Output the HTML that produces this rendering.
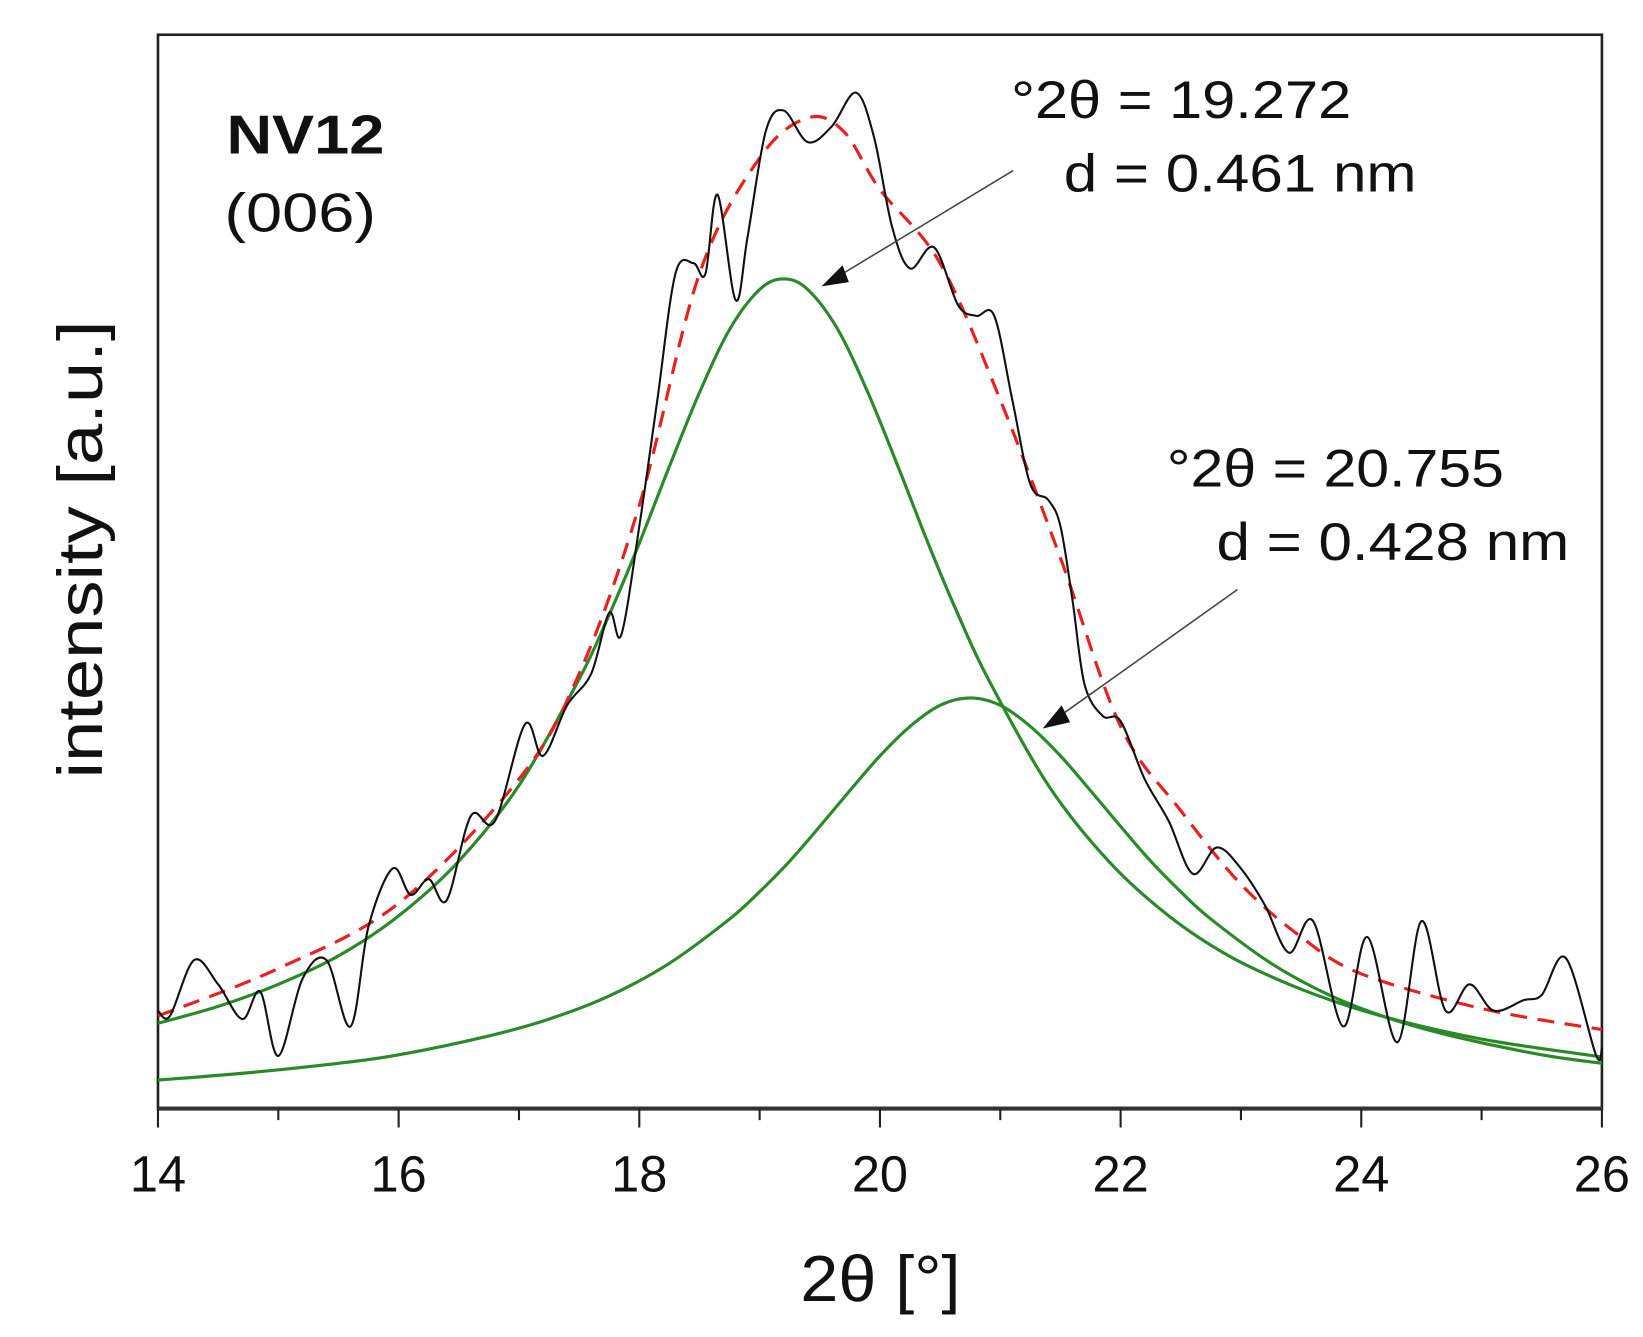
<!DOCTYPE html>
<html><head><meta charset="utf-8"><style>
html,body{margin:0;padding:0;background:#fff;}
svg{display:block;}
text{font-family:"Liberation Sans",sans-serif;fill:#111;}
</style></head><body>
<svg id="chart" width="1643" height="1337" viewBox="0 0 1560 1270" preserveAspectRatio="none" xmlns="http://www.w3.org/2000/svg">
<rect x="150" y="33" width="1371" height="1020" fill="none" stroke="#222" stroke-width="2.5"/>
<g id="ticks"></g>
<g id="series"></g>
<text x="215" y="146" font-size="52" font-weight="bold" textLength="150" lengthAdjust="spacingAndGlyphs">NV12</text>
<text x="213" y="220" font-size="52" textLength="144" lengthAdjust="spacingAndGlyphs">(006)</text>
<text x="960" y="112" font-size="50" textLength="323" lengthAdjust="spacingAndGlyphs">°2θ = 19.272</text>
<text x="1010" y="182" font-size="50" textLength="335" lengthAdjust="spacingAndGlyphs">d = 0.461 nm</text>
<text x="1108" y="462" font-size="50" textLength="320" lengthAdjust="spacingAndGlyphs">°2θ = 20.755</text>
<text x="1155" y="532" font-size="50" textLength="335" lengthAdjust="spacingAndGlyphs">d = 0.428 nm</text>
<line x1="962" y1="162" x2="795" y2="263" stroke="#444" stroke-width="1.5"/>
<polygon points="780,272 800,252 806,268" fill="#111"/>
<line x1="1175" y1="560" x2="1005" y2="681" stroke="#444" stroke-width="1.5"/>
<polygon points="990,692 1008,670 1016,686" fill="#111"/>
<text transform="translate(97,522) rotate(-90)" text-anchor="middle" font-size="60" textLength="435" lengthAdjust="spacingAndGlyphs">intensity [a.u.]</text>
<text x="836" y="1236" text-anchor="middle" font-size="62" textLength="152" lengthAdjust="spacingAndGlyphs">2θ [°]</text>
</svg>
<script>
const xTickLabels = [14, 16, 18, 20, 22, 24, 26];
const measuredX = [14.0,14.1,14.3,14.5,14.7,14.85,15.0,15.2,15.4,15.6,15.75,15.95,16.1,16.25,16.4,16.6,16.8,17.05,17.2,17.4,17.6,17.75,17.85,18.0,18.15,18.3,18.45,18.55,18.65,18.8,18.9,19.05,19.2,19.4,19.6,19.8,19.95,20.1,20.25,20.45,20.65,20.8,20.95,21.1,21.25,21.4,21.5,21.6,21.7,21.85,22.0,22.2,22.4,22.6,22.8,23.0,23.2,23.4,23.6,23.85,24.05,24.3,24.5,24.7,24.9,25.1,25.35,25.5,25.7,25.95,26.0];
const measuredY = [93,88,141,118,85,111,50,123,141,78,173,228,203,218,198,278,273,365,335,383,413,471,450,553,673,793,803,793,868,768,828,928,948,918,933,965,923,838,798,818,763,753,753,673,593,578,553,483,403,373,368,313,273,223,248,228,193,148,178,78,163,63,178,93,118,93,103,108,143,51,58];
const fitX = [14,15,16,17,17.5,18,18.5,19,19.4,19.7,20,20.5,21,21.5,22,22.5,23,23.5,24,25,26];
const fitY = [88,133,195,313,413,573,793,903,941,928,873,803,673,523,363,283,213,163,128,95,75];
const peak1X = [14,14.5,15,15.5,16,16.5,17,17.5,17.75,18,18.25,18.5,18.75,19,19.2,19.4,19.65,19.9,20.15,20.4,20.65,20.9,21.4,21.9,22.4,22.9,23.4,23.9,24.4,25,25.5,26];
const peak1Y = [81,97,118,145,183,235,307,408,469,537,610,680,740,778,788,778,740,680,610,537,469,408,307,235,183,145,118,97,81,66,57,49];
const peak2X = [14,14.75,15.5,16,16.75,17.25,17.75,18.25,18.75,19,19.25,19.5,19.75,20,20.25,20.5,20.75,21,21.25,21.5,21.75,22,22.25,22.5,22.75,23.25,23.75,24.25,24.75,25.5,26];
const peak2Y = [27,34,43,51,69,85,107,138,180,206,235,268,302,335,363,383,390,383,363,335,302,268,235,206,180,138,107,85,69,51,43];

const NS = "http://www.w3.org/2000/svg";
const X0 = 150, X1 = 1521, Y0 = 1053;
function sx(v){ return X0 + (v - 14) / 12 * (X1 - X0); }
function sy(v){ return Y0 - v; }
function smoothPath(xs, ys){
  const p = xs.map((x,i)=>[sx(x), sy(ys[i])]);
  let d = "M" + p[0][0].toFixed(1) + "," + p[0][1].toFixed(1);
  for (let i=0;i<p.length-1;i++){
    const a = p[Math.max(i-1,0)], b = p[i], c = p[i+1], e = p[Math.min(i+2,p.length-1)];
    const c1x = b[0] + (c[0]-a[0])/6, c1y = b[1] + (c[1]-a[1])/6;
    const c2x = c[0] - (e[0]-b[0])/6, c2y = c[1] - (e[1]-b[1])/6;
    d += " C" + c1x.toFixed(1)+","+c1y.toFixed(1)+" "+c2x.toFixed(1)+","+c2y.toFixed(1)+" "+c[0].toFixed(1)+","+c[1].toFixed(1);
  }
  return d;
}
const ticks = document.getElementById("ticks");
const axis = document.createElementNS(NS,"line");
axis.setAttribute("x1",X0); axis.setAttribute("x2",X1); axis.setAttribute("y1",Y0); axis.setAttribute("y2",Y0);
axis.setAttribute("stroke","#333"); axis.setAttribute("stroke-width","4");


ticks.appendChild(axis);
for (let v=14; v<=26; v+=1){
  const major = v % 2 === 0;
  const t = document.createElementNS(NS,"line");
  t.setAttribute("x1",sx(v)); t.setAttribute("x2",sx(v));
  t.setAttribute("y1",Y0); t.setAttribute("y2",Y0 + (major?18:11));
  t.setAttribute("stroke","#222"); t.setAttribute("stroke-width","2");
  
  
  ticks.appendChild(t);
}
xTickLabels.forEach(v=>{
  const t = document.createElementNS(NS,"text");
  t.setAttribute("x",sx(v)); t.setAttribute("y",1132);
  t.setAttribute("text-anchor","middle"); t.setAttribute("font-size","48");
  t.textContent = v;
  
  
  ticks.appendChild(t);
});
const g = document.getElementById("series");
function addPath(xs, ys, color, width, dash, name){
  const p = document.createElementNS(NS,"path");
  p.setAttribute("d", smoothPath(xs, ys));
  p.setAttribute("fill","none"); p.setAttribute("stroke",color);
  p.setAttribute("stroke-width",width);
  if (dash) p.setAttribute("stroke-dasharray",dash);
  
  
  g.appendChild(p);
}
addPath(peak1X, peak1Y, "#2a8a2a", 3, null, "peak1-fit-line");
addPath(peak2X, peak2Y, "#2a8a2a", 3, null, "peak2-fit-line");
addPath(fitX, fitY, "#e82020", 3, "16,10", "cumulative-fit-line");
addPath(measuredX, measuredY, "#111", 2, null, "measured-pattern-line");
</script>
</body></html>
